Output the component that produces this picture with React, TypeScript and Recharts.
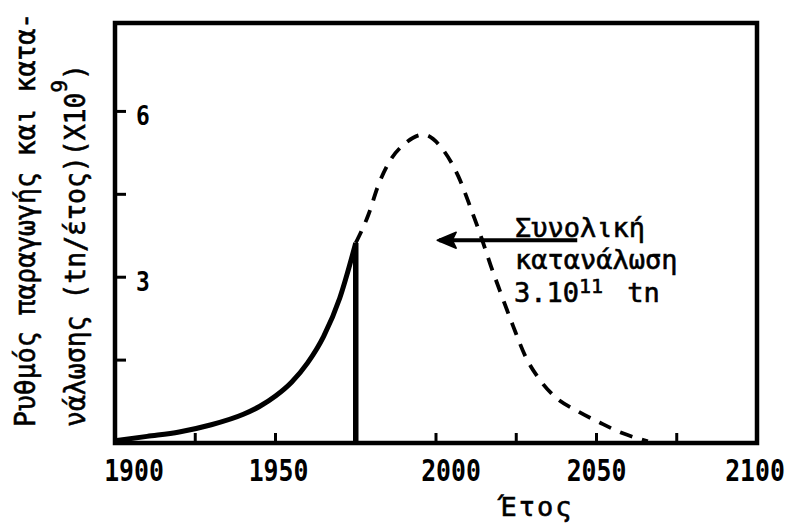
import React from 'react';
import { LineChart, Line, XAxis, YAxis, ReferenceArea } from 'recharts';

// Historical production rate (solid) up to the cut-off year
const solidYears = [1900, 1910, 1920, 1930, 1940, 1945, 1950, 1955, 1960, 1965, 1970, 1975];
const solidRates = [0.04, 0.12, 0.2, 0.33, 0.52, 0.66, 0.85, 1.1, 1.45, 1.93, 2.62, 3.62];

// Projected rate (dashed)
const dashYears = [1975, 1979, 1982, 1985, 1991, 1996, 2002, 2007, 2011, 2014, 2017, 2020, 2024, 2028, 2032, 2037, 2044, 2051, 2058, 2066];
const dashRates = [3.62, 4.14, 4.66, 5.04, 5.45, 5.58, 5.32, 4.82, 4.22, 3.74, 3.22, 2.74, 2.12, 1.55, 1.17, 0.84, 0.58, 0.37, 0.18, 0.03];

// Vertical cut-off line
const cutYears = [1975, 1975];
const cutRates = [3.62, 0];

// Arrow pointing to the curve
const arrowYears = [2044, 2001];
const arrowRates = [3.67, 3.67];

const xTicks = [1900, 1925, 1950, 1975, 2000, 2025, 2050, 2075, 2100];
const xLabels = [1900, 1950, 2000, 2050, 2100];
const yTicks = [1.5, 3, 4.5, 6];
const yLabels = [3, 6];
const xDomain = [1900, 2100];
const yDomain = [0, 7.6];

const yTitle1 = 'Ρυθμός παραγωγής και κατα-';
const yTitle2 = 'νάλωσης (tn/έτος)(X10';
const yTitleSup = '9';
const xTitle = 'Έτος';
const noteLine1 = 'Συνολική';
const noteLine2 = 'κατανάλωση';
const noteMant = '3.10';
const noteExp = '11';
const noteUnit = 'tn';

const zip = (xs: number[], ys: number[]) => xs.map((x, i) => ({ year: x, rate: ys[i] }));
const solidData = zip(solidYears, solidRates);
const dashData = zip(dashYears, dashRates);
const cutData = zip(cutYears, cutRates);
const arrowData = zip(arrowYears, arrowRates);

const FONT = '"DejaVu Sans Mono", monospace';
const labelShift: Record<number, number> = { 1900: 19, 1950: 3, 2000: 15, 2050: 0, 2100: -2 };

const XTick = (props: any) => {
  const { x, y, payload } = props;
  const v = payload.value;
  const mark = v !== xDomain[0] && v !== xDomain[1];
  const lab = xLabels.includes(v);
  return (
    <g>
      {mark && <line x1={x} y1={y} x2={x} y2={y - 10} stroke="#000" strokeWidth={3} />}
      {lab && (
        <text
          transform={`translate(${x + (labelShift[v] ?? 0)},${y + 38}) scale(0.8,1)`}
          textAnchor="middle"
          fontFamily={FONT}
          fontWeight="bold"
          fontSize={31}
          fill="#000"
        >
          {v}
        </text>
      )}
    </g>
  );
};

const YTick = (props: any) => {
  const { x, y, payload } = props;
  const v = payload.value;
  const lab = yLabels.includes(v);
  return (
    <g>
      <line x1={x} y1={y} x2={x + 11} y2={y} stroke="#000" strokeWidth={3} />
      {lab && (
        <text
          transform={`translate(${x + 28},${y + 14}) scale(0.85,1)`}
          textAnchor="middle"
          fontFamily={FONT}
          fontWeight="bold"
          fontSize={27}
          fill="#000"
        >
          {v}
        </text>
      )}
    </g>
  );
};

const ArrowDot = (props: any) => {
  const { cx, cy, index } = props;
  if (index !== arrowYears.length - 1) return <g key={`a${index}`} />;
  return (
    <path
      key={`a${index}`}
      d={`M${cx - 2},${cy} L${cx + 17},${cy - 8} L${cx + 13},${cy} L${cx + 17},${cy + 8} Z`}
      fill="#000"
      stroke="#000"
      strokeWidth={1.5}
      strokeLinejoin="round"
    />
  );
};

export default function App() {
  return (
    <div style={{ position: 'absolute', left: 0, top: 0, width: 791, height: 525, background: '#fff' }}>
      <LineChart width={791} height={525} margin={{ top: 23, right: 34, bottom: 0, left: 0 }}>
        <XAxis
          dataKey="year"
          type="number"
          domain={xDomain}
          ticks={xTicks}
          axisLine={false}
          tickLine={false}
          tickSize={0}
          tickMargin={0}
          height={82}
          tick={<XTick />}
          interval={0}
        />
        <YAxis
          type="number"
          domain={yDomain}
          ticks={yTicks}
          axisLine={false}
          tickLine={false}
          tickSize={0}
          tickMargin={0}
          width={115}
          tick={<YTick />}
          interval={0}
        />
        <ReferenceArea
          x1={xDomain[0]}
          x2={xDomain[1]}
          y1={yDomain[0]}
          y2={yDomain[1]}
          fill="none"
          fillOpacity={0}
          stroke="#000"
          strokeWidth={4.5}
          ifOverflow="visible"
        />
        <Line data={solidData} dataKey="rate" type="monotone" stroke="#000" strokeWidth={5} dot={false} isAnimationActive={false} />
        <Line data={cutData} dataKey="rate" type="linear" stroke="#000" strokeWidth={5.5} dot={false} isAnimationActive={false} />
        <Line
          data={dashData}
          dataKey="rate"
          type="monotone"
          stroke="#000"
          strokeWidth={3.8}
          strokeDasharray="13 10"
          dot={false}
          isAnimationActive={false}
        />
        <Line data={arrowData} dataKey="rate" type="linear" stroke="#000" strokeWidth={4} dot={<ArrowDot />} isAnimationActive={false} />
      </LineChart>
      <svg width={791} height={525} style={{ position: 'absolute', left: 0, top: 0, pointerEvents: 'none' }}>
        <g fontFamily={FONT} fill="#000" stroke="#000" strokeWidth={0.6}>
          <text transform="translate(35,427) rotate(-90) scale(0.945,1)" fontSize={28}>
            {yTitle1}
          </text>
          <text transform="translate(85,427) rotate(-90) scale(0.945,1)" fontSize={28}>
            {yTitle2}
            <tspan fontSize={22} dy={-18}>{yTitleSup}</tspan>
            <tspan dy={18}>)</tspan>
          </text>
          <text x={537} y={516} fontSize={27} textAnchor="middle" letterSpacing={2}>
            {xTitle}
          </text>
          <text x={515} y={237} fontSize={27}>
            {noteLine1}
          </text>
          <text x={515} y={269} fontSize={27}>
            {noteLine2}
          </text>
          <text x={514} y={302} fontSize={27}>
            {noteMant}
            <tspan fontSize={20} dy={-9}>{noteExp}</tspan>
            <tspan dy={9} dx={24}>{noteUnit}</tspan>
          </text>
        </g>
      </svg>
    </div>
  );
}
